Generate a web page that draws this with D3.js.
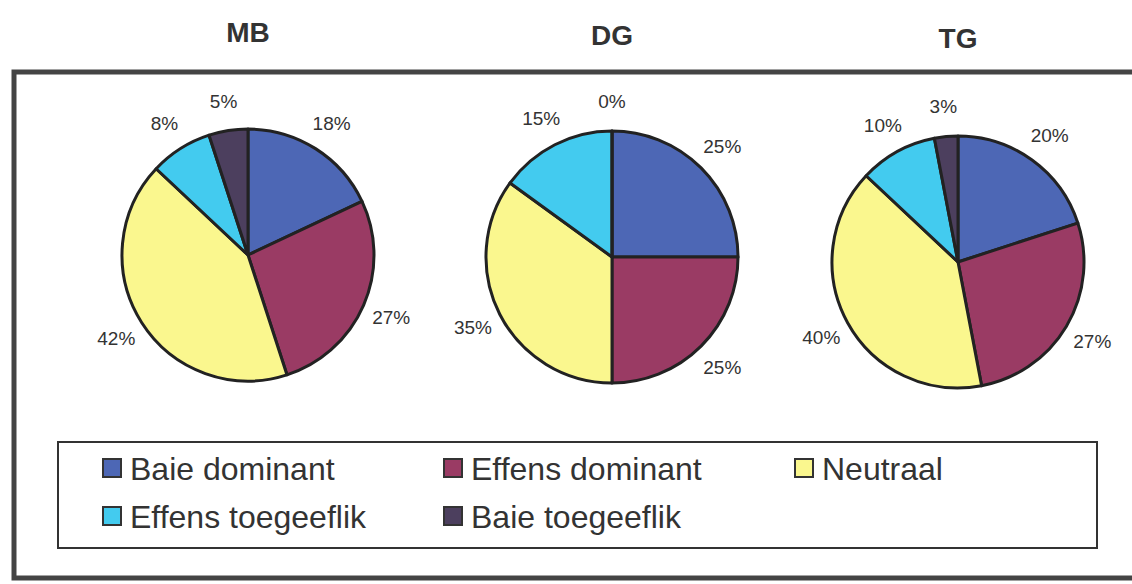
<!DOCTYPE html>
<html>
<head>
<meta charset="utf-8">
<script src="https://cdn.jsdelivr.net/npm/d3@7"></script>
<style>
  body { margin: 0; background: #fff; }
  text { font-family: "Liberation Sans", Arial, sans-serif; fill: #333; }
</style>
</head>
<body>
<svg id="chart" width="1132" height="584"></svg>
<script>
var categories = ["Baie dominant", "Effens dominant", "Neutraal", "Effens toegeeflik", "Baie toegeeflik"];
var colors = ["#4d67b5", "#9a3b64", "#faf78e", "#43cbef", "#4c3f5e"];
var groups = ["MB", "DG", "TG"];
var mbValues = [18, 27, 42, 8, 5];
var dgValues = [25, 25, 35, 15, 0];
var tgValues = [20, 27, 40, 10, 3];

var svg = d3.select("#chart");

// outer frame
svg.append("rect")
  .attr("x", 14).attr("y", 72)
  .attr("width", 1130).attr("height", 506)
  .attr("fill", "none")
  .attr("stroke", "#444")
  .attr("stroke-width", 5);

var pies = [
  {name: groups[0], values: mbValues, cx: 248, cy: 255, ty: 42},
  {name: groups[1], values: dgValues, cx: 612, cy: 257, ty: 45},
  {name: groups[2], values: tgValues, cx: 958, cy: 262, ty: 48}
];
var radius = 126;

var pie = d3.pie().sort(null).value(function (d) { return d; });
var arc = d3.arc().innerRadius(0).outerRadius(radius);
var labelArc = d3.arc().innerRadius(radius + 30).outerRadius(radius + 30);

pies.forEach(function (p) {
  svg.append("text")
    .attr("x", p.cx)
    .attr("y", p.ty)
    .attr("text-anchor", "middle")
    .style("font-size", "28px")
    .style("font-weight", "bold")
    .text(p.name);

  var g = svg.append("g").attr("transform", "translate(" + p.cx + "," + p.cy + ")");
  var arcs = pie(p.values);

  g.selectAll("path")
    .data(arcs)
    .enter().append("path")
      .attr("d", arc)
      .attr("fill", function (d, i) { return colors[i]; })
      .attr("stroke", "#222")
      .attr("stroke-width", 3)
      .attr("stroke-linejoin", "round");

  g.selectAll("text.pct")
    .data(arcs)
    .enter().append("text")
      .attr("class", "pct")
      .attr("transform", function (d) { return "translate(" + labelArc.centroid(d) + ")"; })
      .attr("text-anchor", "middle")
      .attr("dy", "0.35em")
      .style("font-size", "19px")
      .text(function (d) { return d.data + "%"; });
});

// legend
svg.append("rect")
  .attr("x", 58).attr("y", 442)
  .attr("width", 1039).attr("height", 106)
  .attr("fill", "none")
  .attr("stroke", "#333")
  .attr("stroke-width", 2);

var legendPos = [[103, 468], [444, 468], [795, 468], [103, 516], [444, 516]];

var lg = svg.selectAll("g.legend")
  .data(categories)
  .enter().append("g")
    .attr("class", "legend")
    .attr("transform", function (d, i) { return "translate(" + legendPos[i][0] + "," + legendPos[i][1] + ")"; });

lg.append("rect")
  .attr("x", 0).attr("y", -9)
  .attr("width", 18).attr("height", 18)
  .attr("fill", function (d, i) { return colors[i]; })
  .attr("stroke", "#333")
  .attr("stroke-width", 2);

lg.append("text")
  .attr("x", 27)
  .attr("dy", "0.36em")
  .style("font-size", "32px")
  .text(function (d) { return d; });
</script>
</body>
</html>
